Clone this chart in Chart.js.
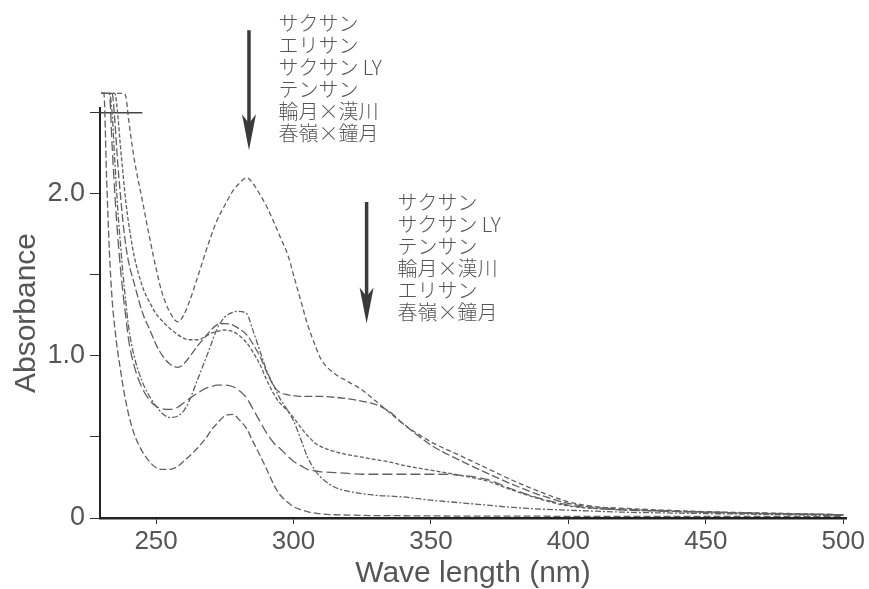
<!DOCTYPE html>
<html lang="ja">
<head>
<meta charset="UTF-8">
<title>Absorbance spectra</title>
<script src="https://cdn.jsdelivr.net/npm/chart.js"></script>
<style>
  html, body { margin: 0; padding: 0; background: #fff; }
  #wrap { width: 869px; height: 589px; position: relative; }
</style>
</head>
<body>
<div id="wrap"><canvas id="spectra"></canvas></div>
<script>
// wavelength grid (nm) shared by every spectrum
const wavelengths = [230, 231, 232, 233, 234, 235, 236, 237, 238, 239, 240,
  242, 245, 248, 250, 252, 255, 258, 260, 262, 265,
  268, 270, 272, 275, 278, 280, 283, 285, 288, 290,
  293, 295, 298, 300, 303, 305, 308, 310, 315, 320,
  325, 330, 335, 340, 350, 360, 370, 380, 390, 400,
  410, 420, 440, 460, 480, 500];

// absorbance (2.62 = off scale)
const sakusan = [2.62, 2.62, 2.62, 2.62, 2.62, 2.62, 2.62, 2.62, 2.62, 2.60, 2.46,
  2.22, 1.96, 1.70, 1.54, 1.40, 1.27, 1.21, 1.25, 1.33, 1.48,
  1.64, 1.74, 1.83, 1.93, 2.02, 2.06, 2.10, 2.07, 1.99, 1.93,
  1.82, 1.74, 1.62, 1.50, 1.32, 1.20, 1.06, 0.98, 0.89, 0.84,
  0.79, 0.72, 0.65, 0.58, 0.47, 0.39, 0.31, 0.23, 0.16, 0.10,
  0.07, 0.06, 0.045, 0.035, 0.028, 0.02];
const erisan = [2.62, 2.62, 2.62, 2.62, 2.50, 2.20, 1.92, 1.70, 1.50, 1.33, 1.18,
  1.00, 0.84, 0.74, 0.69, 0.65, 0.62, 0.63, 0.66, 0.72, 0.85,
  0.98, 1.07, 1.16, 1.24, 1.27, 1.275, 1.26, 1.17, 1.02, 0.92,
  0.81, 0.74, 0.66, 0.60, 0.47, 0.38, 0.29, 0.25, 0.19, 0.165,
  0.15, 0.14, 0.135, 0.13, 0.11, 0.095, 0.08, 0.065, 0.055, 0.048,
  0.042, 0.036, 0.03, 0.025, 0.02, 0.015];
const sakusanLY = [2.62, 2.62, 2.62, 2.62, 2.62, 2.45, 2.20, 2.00, 1.82, 1.68, 1.58,
  1.45, 1.27, 1.15, 1.07, 1.01, 0.95, 0.93, 0.95, 0.99, 1.06,
  1.12, 1.16, 1.19, 1.20, 1.19, 1.17, 1.13, 1.08, 0.99, 0.91,
  0.81, 0.775, 0.76, 0.755, 0.75, 0.75, 0.75, 0.75, 0.745, 0.735,
  0.72, 0.70, 0.655, 0.58, 0.45, 0.36, 0.28, 0.205, 0.14, 0.09,
  0.065, 0.055, 0.042, 0.033, 0.026, 0.02];
const tensan = [2.62, 2.62, 2.62, 2.62, 2.62, 2.62, 2.50, 2.30, 2.12, 1.95, 1.82,
  1.62, 1.43, 1.32, 1.26, 1.22, 1.17, 1.13, 1.11, 1.10, 1.10,
  1.12, 1.14, 1.15, 1.16, 1.15, 1.13, 1.08, 1.03, 0.94, 0.86,
  0.76, 0.71, 0.66, 0.62, 0.55, 0.51, 0.46, 0.44, 0.41, 0.39,
  0.375, 0.36, 0.345, 0.325, 0.295, 0.265, 0.23, 0.17, 0.115, 0.075,
  0.058, 0.05, 0.04, 0.032, 0.025, 0.02];
const ringetsuKankawa = [2.62, 2.62, 2.62, 2.62, 2.30, 2.00, 1.75, 1.55, 1.38, 1.24, 1.10,
  0.94, 0.80, 0.72, 0.69, 0.675, 0.67, 0.685, 0.71, 0.735, 0.77,
  0.80, 0.81, 0.82, 0.82, 0.81, 0.79, 0.74, 0.68, 0.59, 0.53,
  0.46, 0.43, 0.38, 0.35, 0.32, 0.30, 0.29, 0.285, 0.28, 0.275,
  0.27, 0.27, 0.27, 0.27, 0.27, 0.265, 0.24, 0.175, 0.12, 0.08,
  0.06, 0.05, 0.04, 0.03, 0.025, 0.02];
const shunreiShogetsu = [2.62, 2.62, 2.10, 1.65, 1.35, 1.17, 1.03, 0.92, 0.81, 0.72, 0.64,
  0.52, 0.41, 0.34, 0.31, 0.30, 0.30, 0.32, 0.35, 0.38, 0.43,
  0.49, 0.54, 0.58, 0.63, 0.64, 0.61, 0.55, 0.48, 0.38, 0.31,
  0.20, 0.145, 0.095, 0.07, 0.05, 0.04, 0.03, 0.025, 0.02, 0.018,
  0.016, 0.015, 0.015, 0.014, 0.013, 0.012, 0.012, 0.011, 0.011, 0.01,
  0.01, 0.01, 0.01, 0.01, 0.01, 0.01];

// short limit mark at the top of the scale
const limitNm = [229.6, 245];
const limitAbs = 2.5;

const xTicks = [250, 300, 350, 400, 450, 500];
const yTicks = [0, 0.5, 1.0, 1.5, 2.0, 2.5];
const yTickLabels = ['0', '', '1.0', '', '2.0', ''];

// order of the peaks, top to bottom
const upperLabels = ['サクサン', 'エリサン', 'サクサン LY', 'テンサン', '輪月×漢川', '春嶺×鐘月'];
const lowerLabels = ['サクサン', 'サクサン LY', 'テンサン', '輪月×漢川', 'エリサン', '春嶺×鐘月'];

function pts(values) {
  return wavelengths.map((w, i) => ({ x: w, y: values[i] }));
}

function curve(label, values, dash) {
  return {
    label: label,
    data: pts(values),
    borderColor: '#606060',
    borderWidth: 1.3,
    borderDash: dash,
    pointRadius: 0,
    fill: false,
    cubicInterpolationMode: 'monotone',
    clip: { left: 2, top: 16, right: 2, bottom: 2 }
  };
}

const datasets = [
  curve('サクサン', sakusan, [5, 3]),
  curve('エリサン', erisan, [6, 2, 2, 2]),
  curve('サクサン LY', sakusanLY, [8, 3]),
  curve('テンサン', tensan, [4, 2]),
  curve('輪月×漢川', ringetsuKankawa, [10, 4]),
  curve('春嶺×鐘月', shunreiShogetsu, [7, 3]),
  {
    label: 'limit',
    data: limitNm.map(w => ({ x: w, y: limitAbs })),
    borderColor: '#444',
    borderWidth: 1.5,
    pointRadius: 0,
    clip: { left: 2, top: 16, right: 2, bottom: 2 }
  }
];

// arrows + labels above the peaks
const notes = {
  id: 'notes',
  afterDraw(chart) {
    const ctx = chart.ctx;
    const x = chart.scales.x, y = chart.scales.y;

    function arrow(nm, top, bottom) {
      const px = x.getPixelForValue(nm);
      const y1 = y.getPixelForValue(top);
      const y2 = y.getPixelForValue(bottom);
      ctx.save();
      ctx.strokeStyle = '#3a3a3a';
      ctx.fillStyle = '#3a3a3a';
      ctx.lineWidth = 3.5;
      ctx.beginPath();
      ctx.moveTo(px, y1);
      ctx.lineTo(px, y2 - 26);
      ctx.stroke();
      ctx.beginPath();
      ctx.moveTo(px, y2);
      ctx.lineTo(px - 7, y2 - 36);
      ctx.lineTo(px, y2 - 27);
      ctx.lineTo(px + 7, y2 - 36);
      ctx.closePath();
      ctx.fill();
      ctx.restore();
    }

    function block(lines, nm, firstAbs) {
      const px = x.getPixelForValue(nm);
      let py = y.getPixelForValue(firstAbs);
      ctx.save();
      ctx.font = '300 20px "Noto Sans CJK JP", sans-serif';
      ctx.fillStyle = '#555';
      ctx.textBaseline = 'middle';
      lines.forEach(t => {
        ctx.fillText(t, px, py);
        py += 22;
      });
      ctx.restore();
    }

    arrow(283.8, 3.01, 2.27);
    block(upperLabels, 294.5, 3.055);
    arrow(326.6, 1.95, 1.20);
    block(lowerLabels, 337.8, 1.95);
  }
};

Chart.defaults.font.family = "'Liberation Sans', Arial, sans-serif";
Chart.defaults.color = '#555';

new Chart(document.getElementById('spectra'), {
  type: 'line',
  data: { datasets: datasets },
  options: {
    responsive: true,
    maintainAspectRatio: false,
    animation: false,
    layout: { padding: { top: 108, right: 23, left: 0, bottom: 0 } },
    plugins: { legend: { display: false }, tooltip: { enabled: false } },
    scales: {
      x: {
        type: 'linear',
        min: 229.6,
        max: 501,
        afterBuildTicks: s => { s.ticks = xTicks.map(v => ({ value: v })); },
        afterFit: s => { s.height = 71; },
        border: { color: '#222', width: 2.5 },
        grid: { drawOnChartArea: false, drawTicks: true, tickLength: 6, color: '#333' },
        ticks: { font: { size: 26 }, padding: 2, maxRotation: 0, color: '#555' },
        title: {
          display: true,
          text: 'Wave length (nm)',
          font: { size: 30, lineHeight: 1 },
          color: '#555',
          padding: { top: 0, bottom: 0 }
        }
      },
      y: {
        min: 0,
        max: 2.53,
        afterBuildTicks: s => { s.ticks = yTicks.map(v => ({ value: v })); },
        afterFit: s => { s.width = 100; },
        border: { color: '#222', width: 2 },
        grid: { drawOnChartArea: false, drawTicks: true, tickLength: 10, color: '#333' },
        ticks: {
          font: { size: 27 },
          padding: 5,
          color: '#555',
          callback: (v, i) => yTickLabels[i]
        },
        title: {
          display: true,
          text: 'Absorbance',
          font: { size: 30, lineHeight: 1 },
          color: '#555',
          padding: { top: 12, bottom: 0 }
        }
      }
    }
  },
  plugins: [notes]
});
</script>
</body>
</html>
